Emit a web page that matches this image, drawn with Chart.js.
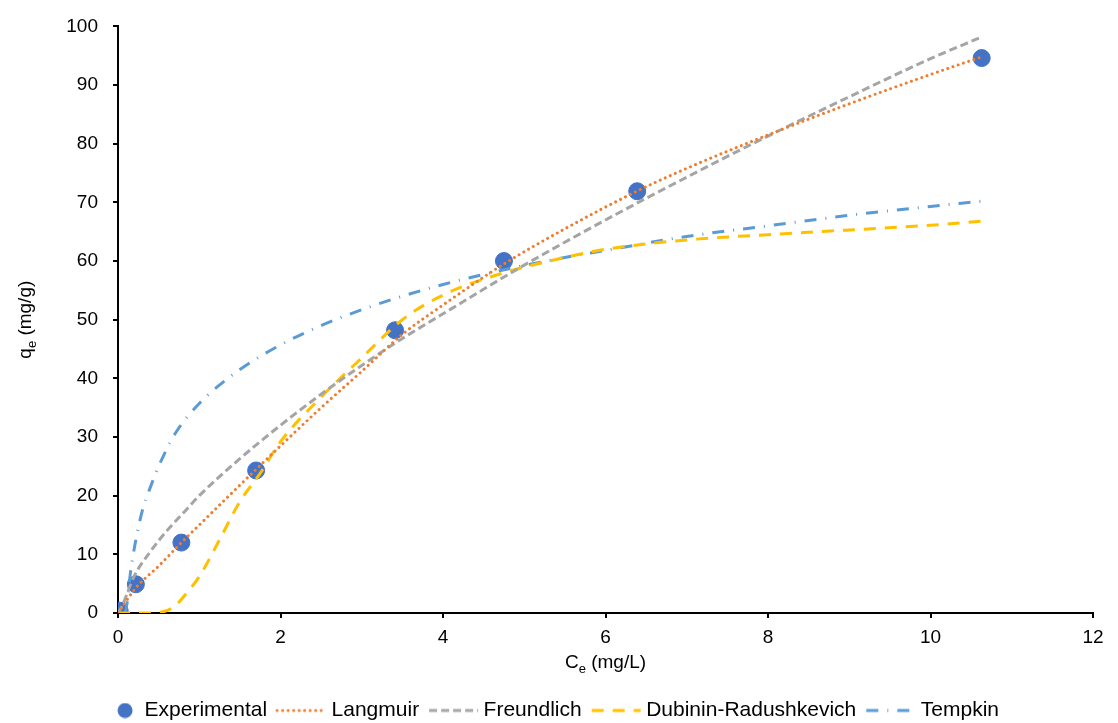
<!DOCTYPE html>
<html>
<head>
<meta charset="utf-8">
<script src="https://cdn.jsdelivr.net/npm/chart.js@4.4.0/dist/chart.umd.min.js"></script>
<style>
  html, body { margin: 0; padding: 0; background: #fff; }
</style>
</head>
<body>
<canvas id="isoChart" width="1118" height="723"></canvas>
<script>
// values
const expX = [0.02, 0.22, 0.78, 1.70, 3.41, 4.75, 6.39, 10.63];
const expY = [0.4, 4.9, 12.0, 24.3, 48.2, 60.0, 71.9, 94.6];

const langX = [0, 0.22, 0.5, 0.78, 1.0, 1.5, 2.0, 2.5, 3.0, 3.5, 4.0, 4.75, 5.5, 6.4, 7.0, 8.0, 9.0, 10.0, 10.63];
const langY = [0, 4.3, 8, 12, 15, 21.8, 28.5, 35, 41.2, 47.5, 52.5, 59.5, 65.5, 72, 75.8, 81.5, 86.8, 91.8, 94.8];

const freuX = [0, 0.05, 0.2, 0.4, 0.6, 0.8, 1.0, 1.5, 2.0, 2.5, 3.0, 3.5, 4.0, 5.0, 6.0, 7.0, 8.0, 9.0, 10.0, 10.63];
const freuY = [0, 1.2, 6.3, 10.5, 14, 17, 20, 26.3, 32, 37.3, 42.2, 46.8, 51, 59.3, 67, 74.3, 81.3, 88, 94.5, 98.2];

const drX = [0, 0.3, 0.55, 0.7, 0.85, 1.0, 1.25, 1.5, 1.75, 2.0, 2.5, 3.0, 3.5, 4.0, 4.75, 5.5, 6.0, 7.0, 8.0, 9.0, 10.0, 10.63];
const drY = [0, 0, 0.2, 1.2, 3.5, 6.2, 12.5, 19, 23.8, 29.2, 36.8, 43.5, 50, 54.2, 58, 60.6, 62, 63.6, 64.5, 65.3, 66.1, 66.8];

const temX = [0.09, 0.12, 0.15, 0.2, 0.3, 0.4, 0.5, 0.7, 1.0, 1.5, 2.0, 2.5, 3.0, 3.5, 4.0, 4.75, 5.5, 6.0, 7.0, 8.0, 9.0, 10.0, 10.63];
const temY = [0, 2.5, 6.5, 11, 17.5, 21.5, 25, 30.5, 35.7, 41.5, 45.7, 49, 51.7, 54, 56, 58.5, 60.6, 61.8, 64.2, 66, 67.8, 69.3, 70.2];

const xTicks = [0, 2, 4, 6, 8, 10, 12];
const yTicks = [0, 10, 20, 30, 40, 50, 60, 70, 80, 90, 100];

const FONT = "'Liberation Sans', Arial, sans-serif";
const pts = (xs, ys) => xs.map((x, i) => ({ x: x, y: ys[i] }));

function curve(label, xs, ys, color, dash, cap) {
  return {
    label: label,
    data: pts(xs, ys),
    showLine: true,
    borderColor: color,
    backgroundColor: color,
    borderWidth: 3,
    borderDash: dash,
    borderCapStyle: cap,
    pointRadius: 0,
    pointHoverRadius: 0,
    cubicInterpolationMode: 'monotone',
    order: 0
  };
}

// legend icons: a 52px wide picture centred on a 40px box, so the
// sample runs right up to the label like in the reference
function legendIcon(ds, isDot) {
  const cv = document.createElement('canvas');
  cv.width = 52;
  cv.height = 16;
  const c = cv.getContext('2d');
  if (isDot) {
    c.fillStyle = ds.backgroundColor;
    c.beginPath();
    c.arc(37, 8, 7.5, 0, Math.PI * 2);
    c.fill();
  } else {
    c.strokeStyle = ds.borderColor;
    c.lineWidth = ds.borderWidth;
    c.lineCap = ds.borderCapStyle;
    c.setLineDash(ds.borderDash);
    c.beginPath();
    c.moveTo(2, 8);
    c.lineTo(51, 8);
    c.stroke();
  }
  return cv;
}

const axisTitles = {
  id: 'axisTitles',
  afterDraw(chart) {
    const c = chart.ctx;
    const a = chart.chartArea;
    const drawSub = (main, sub, rest, cx, cy) => {
      c.font = '19px ' + FONT;
      const w1 = c.measureText(main).width;
      const w3 = c.measureText(rest).width;
      c.font = '13px ' + FONT;
      const w2 = c.measureText(sub).width;
      let x = cx - (w1 + w2 + w3) / 2;
      c.textBaseline = 'middle';
      c.textAlign = 'left';
      c.fillStyle = '#000';
      c.font = '19px ' + FONT;
      c.fillText(main, x, cy);
      x += w1;
      c.font = '13px ' + FONT;
      c.fillText(sub, x, cy + 6);
      x += w2;
      c.font = '19px ' + FONT;
      c.fillText(rest, x, cy);
    };
    c.save();
    drawSub('C', 'e', ' (mg/L)', (a.left + a.right) / 2, 663);
    c.restore();
    c.save();
    c.translate(26, (a.top + a.bottom) / 2);
    c.rotate(-Math.PI / 2);
    drawSub('q', 'e', ' (mg/g)', 0, 0);
    c.restore();
  }
};

const tickFont = { family: FONT, size: 19 };

new Chart(document.getElementById('isoChart').getContext('2d'), {
  type: 'scatter',
  data: {
    datasets: [
      {
        label: 'Experimental',
        data: pts(expX, expY),
        backgroundColor: '#4472C4',
        borderColor: '#4472C4',
        pointRadius: 8.5,
        pointHoverRadius: 8.5,
        showLine: false,
        order: 1
      },
      curve('Langmuir', langX, langY, '#ED7D31', [0.01, 5.5], 'round'),
      curve('Freundlich', freuX, freuY, '#A5A5A5', [8, 4], 'butt'),
      curve('Dubinin-Radushkevich', drX, drY, '#FFC000', [12, 9], 'butt'),
      curve('Tempkin', temX, temY, '#5B9BD5', [12, 9, 1, 9], 'butt')
    ]
  },
  options: {
    responsive: false,
    animation: false,
    layout: { padding: { top: 25, right: 25, bottom: -8, left: 0 } },
    plugins: {
      tooltip: { enabled: false },
      legend: {
        position: 'bottom',
        labels: {
          usePointStyle: true,
          pointStyleWidth: 40,
          padding: 14,
          color: '#000',
          font: { family: FONT, size: 21 },
          generateLabels: (chart) => chart.data.datasets.map((ds, i) => ({
            text: ds.label,
            datasetIndex: i,
            fillStyle: ds.backgroundColor,
            strokeStyle: ds.borderColor,
            lineWidth: 0,
            pointStyle: legendIcon(ds, i === 0),
            fontColor: '#000',
            hidden: false
          }))
        }
      }
    },
    scales: {
      x: {
        type: 'linear',
        min: 0,
        max: 12,
        afterBuildTicks: (s) => { s.ticks = xTicks.map(v => ({ value: v })); },
        ticks: { font: tickFont, color: '#000', padding: 8 },
        grid: { drawOnChartArea: false, tickLength: 5, color: '#000', lineWidth: 2 },
        border: { color: '#000', width: 2 },
        afterFit: (s) => { s.height = 73; }
      },
      y: {
        type: 'linear',
        min: 0,
        max: 100,
        afterBuildTicks: (s) => { s.ticks = yTicks.map(v => ({ value: v })); },
        ticks: { font: tickFont, color: '#000', padding: 15 },
        grid: { drawOnChartArea: false, tickLength: 5, color: '#000', lineWidth: 2 },
        border: { color: '#000', width: 2 },
        afterFit: (s) => { s.width = 118; }
      }
    }
  },
  plugins: [axisTitles]
});
</script>
</body>
</html>
